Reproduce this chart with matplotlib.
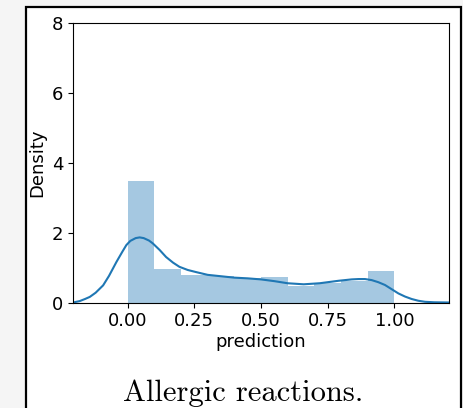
import numpy as np
import matplotlib
matplotlib.use('Agg')
import matplotlib.pyplot as plt
import matplotlib.patches as mpatches

SIZE = 13
plt.rc('font', size=SIZE)
plt.rc('xtick', labelsize=SIZE)
plt.rc('ytick', labelsize=SIZE)

# histogram (density), bins of width 0.1 over [0, 1]
bin_left = [0.0, 0.1, 0.2, 0.3, 0.4, 0.5, 0.6, 0.7, 0.8, 0.9]
bin_height = [3.46, 0.96, 0.78, 0.75, 0.70, 0.74, 0.48, 0.55, 0.61, 0.90]

# kde curve
kde_x = [-0.205, -0.18, -0.16, -0.142, -0.12, -0.092, -0.07, -0.042, -0.02,
         -0.005, 0.01, 0.03, 0.045, 0.06, 0.08, 0.094, 0.12, 0.144, 0.17,
         0.194, 0.225, 0.256, 0.30, 0.35, 0.40, 0.45, 0.50, 0.55, 0.60, 0.66,
         0.72, 0.79, 0.84, 0.866, 0.89, 0.915, 0.94, 0.965, 0.99, 1.015,
         1.04, 1.065, 1.09, 1.115, 1.15, 1.205]
kde_y = [0.0, 0.04, 0.10, 0.16, 0.28, 0.49, 0.76, 1.16, 1.45,
         1.64, 1.76, 1.84, 1.86, 1.84, 1.77, 1.69, 1.50, 1.30, 1.14,
         1.02, 0.93, 0.87, 0.79, 0.75, 0.71, 0.69, 0.66, 0.61, 0.55, 0.52,
         0.55, 0.62, 0.66, 0.67, 0.67, 0.64, 0.58, 0.50, 0.38, 0.26,
         0.17, 0.10, 0.05, 0.02, 0.006, 0.0]

xticks = [0.0, 0.25, 0.5, 0.75, 1.0]
yticks = [0, 2, 4, 6, 8]

fig = plt.figure(figsize=(4.64, 4.08), dpi=100)
fig.patch.set_facecolor('#f5f5f5')

# black page frame behind the plot
frame = mpatches.Rectangle((26 / 464, -0.05), 435 / 464, 1.05 - 7 / 408,
                           transform=fig.transFigure, facecolor='white',
                           edgecolor='black', linewidth=1.6, zorder=-10)
fig.patches.append(frame)

ax = fig.add_axes([73 / 464, 1 - 302.5 / 408, 376 / 464, 280 / 408])
ax.set_zorder(5)
ax.bar(bin_left, bin_height, width=0.1, align='edge', color='#1f77b4',
       alpha=0.4, linewidth=0)
ax.plot(kde_x, kde_y, color='#1f77b4', linewidth=1.5)

ax.set_xlim(-0.205, 1.205)
ax.set_ylim(0, 8)
ax.set_xticks(xticks)
ax.set_xticklabels(['%.2f' % t for t in xticks])
ax.set_yticks(yticks)
ax.set_xlabel('prediction', labelpad=2)
ax.set_ylabel('Density')

fig.text(243 / 464, 1 - 393 / 408, 'Allergic reactions.', ha='center',
         va='center', fontsize=22, family='cmr10', zorder=5)

plt.savefig('out.png', dpi=100)
